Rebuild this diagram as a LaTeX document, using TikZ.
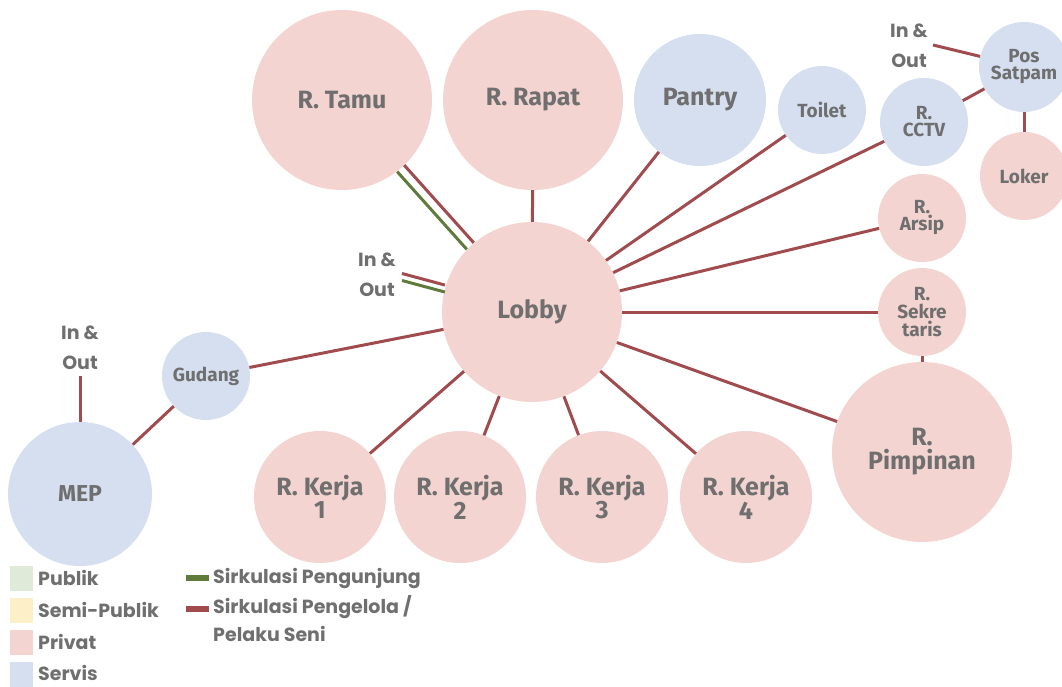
\documentclass[tikz,border=0pt]{standalone}
\usepackage{fontspec}
\setmainfont{Fira Sans}
\newfontfamily\pop{Poppins}
\definecolor{pinkc}{HTML}{F3D4D1}
\definecolor{bluec}{HTML}{D6DFF0}
\definecolor{greenl}{HTML}{DFEBD8}
\definecolor{yellowl}{HTML}{FDF0C9}
\definecolor{redline}{HTML}{A04B4E}
\definecolor{greenline}{HTML}{5F7B3B}
\definecolor{txt}{HTML}{6F6F6F}
\newcommand{\fsz}[2]{\fontsize{#1}{#2}\selectfont}
\tikzset{
  room/.style={circle, fill=#1, draw=none, inner sep=0pt, align=center, text=txt, font=\bfseries},
  pk/.style={room=pinkc},
  bl/.style={room=bluec},
  rl/.style={draw=redline, line width=3pt},
  gl/.style={draw=greenline, line width=3pt},
  iolab/.style={align=center, text=txt, font=\pop\bfseries\fsz{19}{30}, inner sep=0pt},
  swatch/.style={minimum width=23pt, minimum height=25pt, inner sep=0pt, anchor=north west},
  legtxt/.style={text=txt, font=\pop\bfseries\fsz{19}{28}, anchor=west, inner sep=0pt, align=left},
}
\begin{document}
\begin{tikzpicture}[x=1pt, y=-1pt]
\useasboundingbox (0,0) rectangle (1062,687);
% rooms
\node[pk, minimum size=180pt, font=\bfseries\fsz{25}{25}] (tamu) at (342,100) {R. Tamu};
\node[pk, minimum size=180pt, font=\bfseries\fsz{25}{25}] (rapat) at (533,100) {R. Rapat};
\node[bl, minimum size=132pt, font=\bfseries\fsz{25}{25}] (pantry) at (700,100) {Pantry};
\node[bl, minimum size=88pt, font=\bfseries\fsz{19}{19}] (toilet) at (822,110) {Toilet};
\node[bl, minimum size=88pt, font=\bfseries\fsz{19}{17}] (cctv) at (924,122) {R.\\CCTV};
\node[bl, minimum size=90pt, font=\bfseries\fsz{19}{17}] (satpam) at (1024,67) {Pos\\Satpam};
\node[pk, minimum size=88pt, font=\bfseries\fsz{19}{19}] (loker) at (1024,176) {Loker};
\node[pk, minimum size=88pt, font=\bfseries\fsz{19}{17}] (arsip) at (922,218) {R.\\Arsip};
\node[pk, minimum size=88pt, font=\bfseries\fsz{19}{18}] (sekre) at (922,312) {R.\\Sekre\\taris};
\node[pk, minimum size=180pt, font=\bfseries\fsz{25}{24}] (pimpinan) at (922,452) {R.\\Pimpinan};
\node[pk, minimum size=180pt, font=\bfseries\fsz{25}{25}] (lobby) at (532,312) {Lobby};
\node[bl, minimum size=88pt, font=\bfseries\fsz{19}{19}] (gudang) at (206,376) {Gudang};
\node[bl, minimum size=144pt, font=\bfseries\fsz{23}{23}] (mep) at (80,494) {MEP};
\node[pk, minimum size=132pt, font=\bfseries\fsz{25}{21}] (k1) at (320,497) {R. Kerja\\1};
\node[pk, minimum size=132pt, font=\bfseries\fsz{25}{21}] (k2) at (460,497) {R. Kerja\\2};
\node[pk, minimum size=132pt, font=\bfseries\fsz{25}{21}] (k3) at (602,497) {R. Kerja\\3};
\node[pk, minimum size=132pt, font=\bfseries\fsz{25}{21}] (k4) at (746,497) {R. Kerja\\4};
% in & out labels
\node[iolab] (iolobby) at (377,275) {In \&\\Out};
\node[iolab] (iosat) at (909,46) {In \&\\Out};
\node[iolab] (iomep) at (80,348) {In \&\\Out};
\coordinate (c1) at (402,277);
\coordinate (c2) at (933,45);
\coordinate (c3) at (80,376);
% connectors
\draw[rl] (lobby) -- (rapat);
\draw[rl, transform canvas={shift={(2pt,2pt)}}] (lobby) -- (tamu);
\draw[gl, transform canvas={shift={(-5pt,-4.5pt)}}] (lobby) -- (tamu);
\draw[rl, transform canvas={shift={(0pt,3.5pt)}}] (c1) -- (lobby);
\draw[gl, transform canvas={shift={(0pt,-3.5pt)}}] (c1) -- (lobby);
\draw[rl] (lobby) -- (pantry);
\draw[rl] (lobby) -- (toilet);
\draw[rl] (lobby) -- (cctv);
\draw[rl] (lobby) -- (arsip);
\draw[rl] (lobby) -- (sekre);
\draw[rl] (lobby) -- (pimpinan);
\draw[rl] (sekre) -- (pimpinan);
\draw[rl] (cctv) -- (satpam);
\draw[rl] (c2) -- (satpam);
\draw[rl] (satpam) -- (loker);
\draw[rl] (lobby) -- (gudang);
\draw[rl] (gudang) -- (mep);
\draw[rl] (c3) -- (mep);
\draw[rl] (lobby) -- (k1);
\draw[rl] (lobby) -- (k2);
\draw[rl] (lobby) -- (k3);
\draw[rl] (lobby) -- (k4);
% legend
\node[swatch, fill=greenl] (s1) at (10,566) {};
\node[swatch, fill=yellowl] (s2) at (10,598) {};
\node[swatch, fill=pinkc] (s3) at (10,630) {};
\node[swatch, fill=bluec] (s4) at (10,662) {};
\node[legtxt] (t1) at (38,578) {Publik};
\node[legtxt] (t2) at (38,610) {Semi-Publik};
\node[legtxt] (t3) at (38,642) {Privat};
\node[legtxt] (t4) at (38,673) {Servis};
\draw[draw=greenline, line width=6pt] (186,578) -- (209,578);
\draw[draw=redline, line width=6pt] (186,609) -- (209,609);
\node[legtxt] (t5) at (213,578) {Sirkulasi Pengunjung};
\node[legtxt, anchor=north west] (t6) at (213,595) {Sirkulasi Pengelola /\\Pelaku Seni};
\end{tikzpicture}
\end{document}
